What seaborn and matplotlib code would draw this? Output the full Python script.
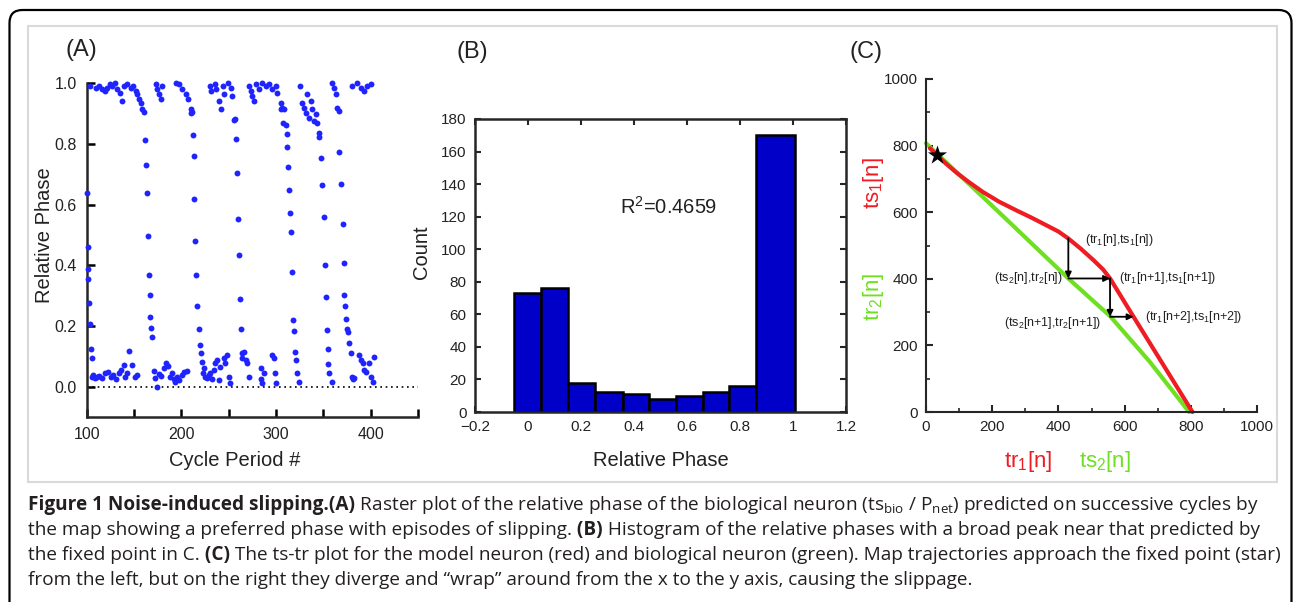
import numpy as np
import pandas as pd
import seaborn as sns
import matplotlib.pyplot as plt
from matplotlib.patches import FancyBboxPatch, Rectangle
from matplotlib.transforms import IdentityTransform

W, H = 1293, 602

# ---------------- data ----------------
# (A) raster: points sitting near phase 1.0
cycle_top = [104, 109.5, 113, 116.5, 119, 121.8, 124.6, 127, 129.5, 132.4, 135.2, 137.6, 139.4, 142.9,
             146.4, 149.3, 151.7, 153.5, 155.2, 157.7, 158.8,
             172.9, 174.6, 176.4, 178.1, 179.9,
             194, 197.5, 201, 204.5, 207, 209.8, 210.5,
             230.2, 231, 235.2, 236.2, 239.7, 241.5, 244.3, 245, 249.3, 252, 253.8, 256.3,
             271.4, 273.2, 275, 276.7, 278.5, 282, 285.5, 289, 292.6, 296, 299.6, 301.4, 304.9,
             306.6, 308.4, 310.2,
             325.3, 327.8, 329.5, 331.3, 333.1, 334.8, 336.6, 338.3, 340.1, 341.9, 343.6, 345.4,
             359.5, 361.2, 363, 364.7, 366.5,
             380.6, 385.9, 389.4, 392.9, 396.4, 400]
phase_top = [0.99, 0.986, 0.991, 0.98, 0.975, 0.986, 0.997, 0.991, 1.0, 0.98, 0.969, 0.942, 0.991, 0.997,
             0.986, 0.991, 0.975, 0.964, 0.947, 0.936, 0.914,
             0.997, 0.98, 0.964, 0.947, 0.991,
             1.0, 0.997, 0.98, 0.964, 0.947, 0.914, 0.903,
             0.991, 0.975, 0.997, 0.98, 0.942, 0.914, 0.991, 0.964, 1.0, 0.986, 0.958, 0.881,
             0.991, 0.975, 0.958, 0.942, 0.997, 0.98, 1.0, 0.991, 0.997, 0.98, 0.991, 0.969, 0.936,
             0.92, 0.914, 0.864,
             0.991, 0.936, 0.92, 0.903, 0.964, 0.887, 0.942, 0.914, 0.876, 0.898, 0.87, 0.837,
             1.0, 0.986, 0.964, 0.92, 0.909,
             0.991, 1.0, 0.986, 0.975, 0.991, 0.997]

# (A) slipping episodes: points falling through the phase range
cycle_slip = [100, 101, 101.5, 101.5, 102, 103, 105, 106,
              160.8, 161.8, 162.9, 163.6, 164.3, 165.4, 166.4, 167.1, 168.2, 169.3,
              211.3, 212.4, 213.1, 213.8, 214.8, 215.9, 216.6, 218.4, 219.4, 220.8, 221.9,
              255.5, 257.2, 258.3, 259.7, 260.8, 261.8, 262.5, 263.6, 264.3,
              305, 307.8, 311.3, 312, 312.7, 313.8, 314.8, 316.3, 317.3, 318.4, 319.1, 320.1, 320.8,
              322.6, 324.4,
              345.6, 347.3, 349.1, 350.9, 351.6, 352.7, 353.7, 354.4, 355.1, 356.5, 358.7,
              366.8, 368.6, 370.3, 371.4, 372.1, 372.8, 373.9, 374.9, 375.6, 377.4, 379.2]
phase_slip = [0.637, 0.46, 0.387, 0.354, 0.275, 0.207, 0.123, 0.093,
              0.906, 0.813, 0.731, 0.637, 0.495, 0.368, 0.302, 0.231, 0.192, 0.165,
              0.906, 0.83, 0.76, 0.618, 0.48, 0.368, 0.266, 0.189, 0.137, 0.11, 0.082,
              0.879, 0.815, 0.705, 0.554, 0.433, 0.288, 0.189, 0.112, 0.093,
              0.914, 0.868, 0.833, 0.791, 0.723, 0.648, 0.571, 0.511, 0.379, 0.22, 0.185, 0.115, 0.088,
              0.044, 0.016,
              0.822, 0.753, 0.665, 0.56, 0.401, 0.297, 0.187, 0.123, 0.075, 0.044, 0.016,
              0.775, 0.668, 0.536, 0.409, 0.302, 0.266, 0.222, 0.189, 0.181, 0.143, 0.11]

# (A) points sitting near phase 0
cycle_low = [105.3, 107.1, 108.8, 110.6, 113.4, 115.9, 119.4, 123, 125.4, 128.3, 131.1, 133.6, 136,
             138.9, 140.6, 142.4, 145.2, 147.7, 150.5, 153,
             170.7, 172.4, 174.2, 176, 178.4, 181.3, 184.1, 185.5, 188.3, 190.1, 191.9, 193.6, 195.4,
             197.2, 200.7, 203.2, 206,
             222.5, 223.7, 225.4, 227.2, 229, 230.7, 232.5, 234.3, 236, 237.8, 239.6, 241.3, 244.9,
             246.6, 248.4, 250.2, 251.9,
             266.1, 267.8, 269.6, 271.4, 283.7, 284.5, 285.5, 287.3,
             296.1, 297.9, 298.9, 300,
             380, 380.9, 382.7, 388, 389.8, 391.5, 392.6, 395.1, 398.6, 400.4, 402.1, 403.9]
phase_low = [0.033, 0.038, 0.027, 0.033, 0.035, 0.027, 0.044, 0.049, 0.033, 0.038, 0.024, 0.044, 0.055,
             0.071, 0.033, 0.046, 0.118, 0.071, 0.033, 0.038,
             0.053, 0.027, 0.0, 0.042, 0.035, 0.06, 0.077, 0.068, 0.033, 0.044, 0.024, 0.016, 0.033,
             0.022, 0.038, 0.049, 0.053,
             0.044, 0.06, 0.033, 0.027, 0.038, 0.046, 0.024, 0.055, 0.077, 0.088, 0.022, 0.066, 0.093,
             0.077, 0.104, 0.033, 0.011,
             0.115, 0.088, 0.077, 0.031, 0.06, 0.024, 0.011, 0.044,
             0.104, 0.093, 0.044, 0.011,
             0.033, 0.024, 0.027, 0.104, 0.088, 0.077, 0.055, 0.049, 0.077, 0.033, 0.016, 0.099]

# (B) histogram of relative phase
hist_edges = [-0.053, 0.049, 0.152, 0.254, 0.357, 0.455, 0.558, 0.66, 0.759, 0.862, 1.006]
hist_counts = [73, 76, 18, 12, 11, 8, 10, 12, 16, 170]
r2_text = "R$^2$=0.4659"

# (C) ts-tr curves
model_tr = [12, 32, 60, 93, 130, 173, 220, 274, 320, 365, 400, 430, 468, 506, 535, 556, 627, 716, 805]
model_ts = [792, 772, 746, 718, 690, 660, 632, 605, 583, 560, 542, 521, 490, 456, 428, 401, 286, 143, 0]
bio_ts = [0, 215, 430, 556, 675, 795]
bio_tr = [807, 605, 401, 288, 152, 0]
fixed_point = (32, 772)
cobweb_x = [430, 430, 556, 556, 627]
cobweb_y = [521, 401, 401, 286, 286]
cobweb_labels = ["(tr$_1$[n],ts$_1$[n])", "(ts$_2$[n],tr$_2$[n])", "(tr$_1$[n+1],ts$_1$[n+1])",
                 "(ts$_2$[n+1],tr$_2$[n+1])", "(tr$_1$[n+2],ts$_1$[n+2])"]

caption_lines = [
    [("Figure 1 Noise-induced slipping.(A)", "bold"),
     (" Raster plot of the relative phase of the biological neuron (ts$_{bio}$ / P$_{net}$) "
      "predicted on successive cycles by", "normal")],
    [("the map showing a preferred phase with episodes of slipping.", "normal"), (" (B)", "bold"),
     (" Histogram of the relative phases with a broad peak near that predicted by", "normal")],
    [("the fixed point in C.", "normal"), (" (C)", "bold"),
     (" The ts-tr plot for the model neuron (red) and biological neuron (green). "
      "Map trajectories approach the fixed point (star)", "normal")],
    [("from the left, but on the right they diverge and \u201cwrap\u201d around from the x to the y axis, "
      "causing the slippage.", "normal")],
]

# ---------------- style ----------------
sns.set_style("ticks")
plt.rcParams["font.family"] = ["Liberation Sans", "DejaVu Sans"]
plt.rcParams["mathtext.default"] = "regular"
ink = "#222222"
red = "#ee1d23"
green = "#6ee021"


def px(x, y):
    return x / W, 1 - y / H


def ax_rect(left, top, right, bottom):
    return [left / W, 1 - bottom / H, (right - left) / W, (bottom - top) / H]


fig = plt.figure(figsize=(W / 100, H / 100), dpi=100)

# frame around the whole figure and the light box around the image
fig.add_artist(FancyBboxPatch((9.5, -60), 1282, 652, boxstyle="round,pad=0,rounding_size=13",
                              lw=1.6, ec="black", fc="none", transform=IdentityTransform()))
fig.add_artist(Rectangle((28, H - 482), 1249, 456, lw=1.5, ec="#d9d9d9", fc="none",
                         transform=IdentityTransform()))

# ---------------- (A) ----------------
axA = fig.add_axes(ax_rect(86.7, 83.3, 418, 417))
raster = pd.DataFrame({"cycle": cycle_top + cycle_slip + cycle_low,
                       "phase": phase_top + phase_slip + phase_low})
sns.scatterplot(data=raster, x="cycle", y="phase", ax=axA, color="#1f24ff", s=18,
                linewidth=0, clip_on=False, zorder=3)
axA.axhline(0, color="black", ls=(0, (1, 2.2)), lw=1.2)
axA.set_xlim(100, 450)
axA.set_ylim(-0.1, 1.0)
axA.set_xticks(range(100, 451, 50))
axA.set_xticklabels([str(v) if v % 100 == 0 and v < 450 else "" for v in range(100, 451, 50)])
axA.set_yticks([0, 0.2, 0.4, 0.6, 0.8, 1.0])
axA.set_yticklabels(["0.0", "0.2", "0.4", "0.6", "0.8", "1.0"])
axA.set_xlabel("")
axA.set_ylabel("")
sns.despine(ax=axA)
for s in ["left", "bottom"]:
    axA.spines[s].set_linewidth(1.8)
axA.tick_params(direction="in", length=6, width=1.8, labelsize=11.5, colors="black",
                labelcolor=ink, pad=7)

# ---------------- (B) ----------------
axB = fig.add_axes(ax_rect(475, 119, 846, 412))
centers = [(a + b) / 2 for a, b in zip(hist_edges[:-1], hist_edges[1:])]
sns.histplot(x=centers, weights=hist_counts, bins=hist_edges, ax=axB, color="#0000c8",
             alpha=1, edgecolor="black", linewidth=1.8)
axB.set_xlim(-0.2, 1.2)
axB.set_ylim(0, 180)
axB.set_xticks([-0.2, 0, 0.2, 0.4, 0.6, 0.8, 1.0, 1.2])
axB.set_xticklabels(["\u22120.2", "0", "0.2", "0.4", "0.6", "0.8", "1", "1.2"])
axB.set_yticks(range(0, 181, 20))
axB.set_xlabel("")
axB.set_ylabel("")
for s in axB.spines.values():
    s.set_linewidth(1.8)
axB.tick_params(direction="in", length=4, width=1.5, top=True, right=True, labelsize=11,
                labelcolor=ink, pad=6)
axB.text(0.53, 126, r2_text, ha="center", va="center", fontsize=14.5, color=ink)

# ---------------- (C) ----------------
axC = fig.add_axes(ax_rect(926, 79, 1257, 412))
sns.lineplot(x=bio_ts, y=bio_tr, ax=axC, color=green, lw=3, sort=False, estimator=None,
             clip_on=False)
sns.lineplot(x=model_tr, y=model_ts, ax=axC, color=red, lw=3, sort=False, estimator=None,
             clip_on=False)
sns.scatterplot(x=[fixed_point[0]], y=[fixed_point[1]], ax=axC, marker="*", s=210,
                color="black", linewidth=0, zorder=5)
for i in range(len(cobweb_x) - 1):
    axC.annotate("", xy=(cobweb_x[i + 1], cobweb_y[i + 1]), xytext=(cobweb_x[i], cobweb_y[i]),
                 arrowprops=dict(arrowstyle="-|>", color="black", lw=1.3, mutation_scale=9,
                                 shrinkA=0, shrinkB=0))
label_pos = [(480, 517, "left"), (413, 401, "right"), (582, 401, "left"),
             (531, 266, "right"), (662, 286, "left")]
for (lx, ly, ha), lab in zip(label_pos, cobweb_labels):
    axC.text(lx, ly, lab, ha=ha, va="center", fontsize=9, color=ink)
axC.set_xlim(0, 1000)
axC.set_ylim(0, 1000)
axC.set_xticks(range(0, 1001, 200))
axC.set_yticks(range(0, 1001, 200))
axC.set_xticks(range(100, 1000, 200), minor=True)
axC.set_yticks(range(100, 1000, 200), minor=True)
sns.despine(ax=axC)
for s in ["left", "bottom"]:
    axC.spines[s].set_linewidth(1.5)
axC.tick_params(which="major", direction="in", length=5, width=1.5, labelsize=11,
                labelcolor=ink, pad=6)
axC.tick_params(which="minor", direction="in", length=3, width=1.2)

# ---------------- labels placed in figure pixels ----------------
for txt, (x, y) in [("(A)", (81, 50)), ("(B)", (472, 52)), ("(C)", (866, 52))]:
    fig.text(*px(x, y), txt, ha="center", va="center", fontsize=17, color=ink)
fig.text(*px(45, 235), "Relative Phase", rotation=90, ha="center", va="center", fontsize=14.5, color=ink)
fig.text(*px(235, 460), "Cycle Period #", ha="center", va="center", fontsize=14.5, color=ink)
fig.text(*px(421, 252), "Count", rotation=90, ha="center", va="center", fontsize=14.5, color=ink)
fig.text(*px(661, 460), "Relative Phase", ha="center", va="center", fontsize=14.5, color=ink)
fig.text(*px(873, 183), "ts$_1$[n]", rotation=90, ha="center", va="center", fontsize=16, color=red)
fig.text(*px(873, 297), "tr$_2$[n]", rotation=90, ha="center", va="center", fontsize=16, color=green)
fig.text(*px(1028, 462), "tr$_1$[n]", ha="center", va="center", fontsize=16, color=red)
fig.text(*px(1105, 462), "ts$_2$[n]", ha="center", va="center", fontsize=16, color=green)

# ---------------- caption ----------------
renderer = fig.canvas.get_renderer()
caption_base = [510, 535, 560, 585]
cap_texts = []


def draw_caption(size):
    for t in cap_texts:
        t.remove()
    cap_texts.clear()
    widths = []
    for row, pieces in enumerate(caption_lines):
        x = 28
        for txt, weight in pieces:
            t = fig.text(*px(x, caption_base[row]), txt, fontsize=size, fontweight=weight,
                         family=["Open Sans", "DejaVu Sans"], va="baseline", color="#231f20")
            cap_texts.append(t)
            x = t.get_window_extent(renderer).x1
        widths.append(x - 28)
    return widths


w = draw_caption(12)
draw_caption(12 * 1250 / max(w))

fig.savefig("out.png", dpi=100)
